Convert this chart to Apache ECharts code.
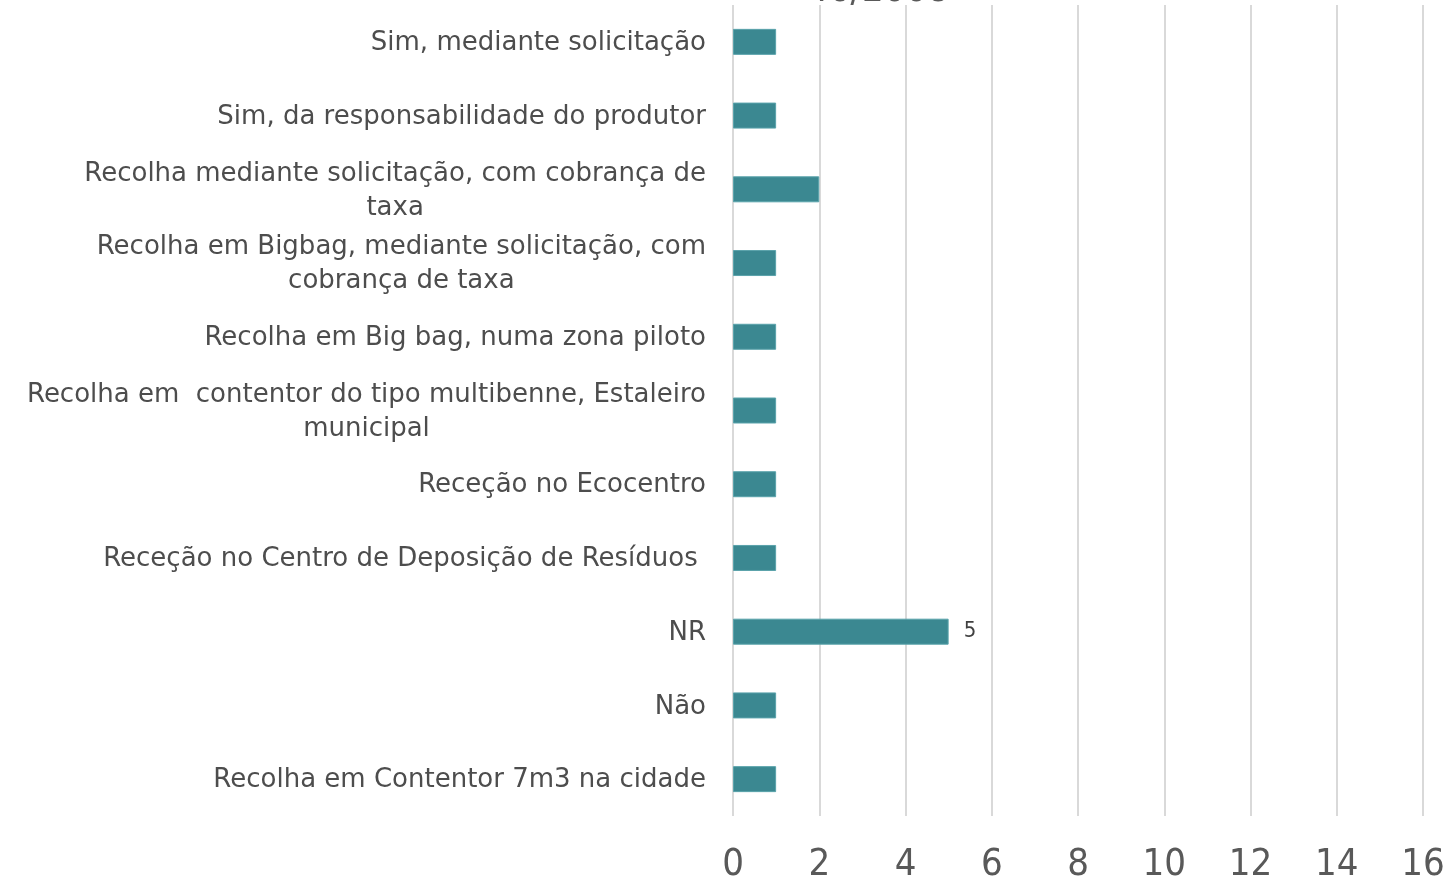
<!DOCTYPE html>
<html>
<head>
<meta charset="utf-8">
<script src="https://cdn.jsdelivr.net/npm/echarts@6/dist/echarts.min.js"></script>
<style>
  html, body { margin: 0; padding: 0; background: #fff; }
  #chart { width: 1443px; height: 877px; }
</style>
</head>
<body>
<div id="chart"></div>
<script>
// categorias (de baixo para cima, como no eixo do Excel)
const categories = [
  'Recolha em Contentor 7m3 na cidade',
  'Não',
  'NR',
  'Receção no Centro de Deposição de Resíduos ',
  'Receção no Ecocentro',
  'Recolha em  contentor do tipo multibenne, Estaleiro\nmunicipal',
  'Recolha em Big bag, numa zona piloto',
  'Recolha em Bigbag, mediante solicitação, com\ncobrança de taxa',
  'Recolha mediante solicitação, com cobrança de\ntaxa',
  'Sim, da responsabilidade do produtor',
  'Sim, mediante solicitação'
];
const values = [1, 1, 5, 1, 1, 1, 1, 1, 2, 1, 1];
const labelled = ['NR'];
const titleText = '46/2008';

const narrow = "'Liberation Sans Narrow', 'DejaVu Sans Condensed', sans-serif";

const chart = echarts.init(document.getElementById('chart'));

const option = {
  animation: false,
  graphic: [{
    type: 'text',
    x: 878,
    y: 10,
    style: {
      text: titleText,
      fontFamily: narrow,
      fontSize: 38,
      fill: '#595959',
      align: 'center',
      verticalAlign: 'bottom'
    }
  }],
  grid: {
    left: 733,
    right: 20,
    top: 5,
    bottom: 61,
    containLabel: false,
    outerBoundsMode: 'none'
  },
  xAxis: {
    type: 'value',
    min: 0,
    max: 16,
    interval: 2,
    axisLine: { show: false },
    axisTick: { show: false },
    splitLine: { show: true, lineStyle: { color: '#d9d9d9', width: 2 } },
    axisLabel: {
      color: '#595959',
      fontFamily: narrow,
      fontSize: 38,
      margin: 30
    }
  },
  yAxis: {
    type: 'category',
    data: categories,
    axisLine: { show: false },
    axisTick: { show: false },
    axisLabel: {
      margin: 27,
      formatter: function (v) {
        return v.split('\n').map(function (l) { return '{c|' + l + '}'; }).join('\n');
      },
      rich: {
        c: {
          align: 'center',
          color: '#4d4d4d',
          fontFamily: 'DejaVu Sans',
          fontSize: 26,
          lineHeight: 34,
          padding: [3, 0, 0, 0]
        }
      }
    }
  },
  series: [{
    type: 'bar',
    barWidth: 26,
    data: values.map(function (v, i) {
      return {
        value: v,
        label: { show: labelled.indexOf(categories[i]) >= 0 }
      };
    }),
    itemStyle: { color: '#3b8891', borderColor: '#5aa3ab', borderWidth: 1 },
    label: {
      position: 'right',
      distance: 15,
      color: '#404040',
      fontFamily: narrow,
      fontSize: 22
    }
  }]
};

chart.setOption(option);
window.addEventListener('resize', function () {
  chart.resize();
});
</script>
</body>
</html>
